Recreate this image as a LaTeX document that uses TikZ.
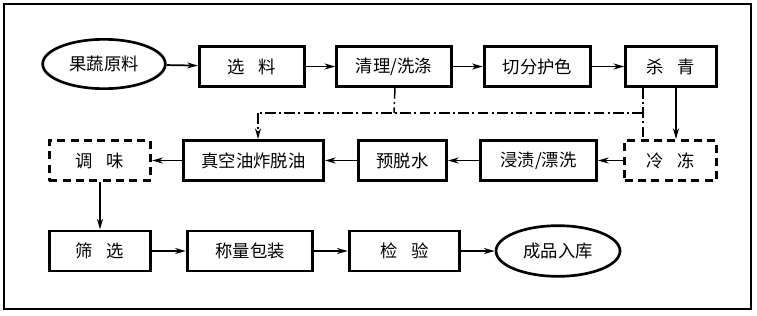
\documentclass[tikz,border=0pt]{standalone}
\usepackage{fontspec}
\newfontfamily\cjk{Noto Sans CJK SC}
\usetikzlibrary{arrows.meta,shapes.geometric,calc}
\newcommand{\gap}{\hspace{0.8em}}
\begin{document}
\begin{tikzpicture}[x=0.75pt,y=-0.75pt,
  lbl/.style={font=\cjk\fontsize{13}{15}\selectfont, inner sep=0pt},
  box/.style={lbl, draw, line width=2.2pt, minimum height=30pt},
  dbox/.style={box, dash pattern=on 6pt off 4pt},
  oval/.style={lbl, draw, ellipse, line width=2pt},
  arr/.style={line width=1.3pt, -{Stealth[length=8pt,width=4.5pt,inset=2.5pt]}},
  dd/.style={line width=1.1pt, dash pattern=on 8pt off 2.5pt on 1.5pt off 2.5pt}]
\useasboundingbox (0,0) rectangle (757,315);
\draw[line width=1.6pt] (4,4) rectangle (751,309);
% row 1
\node[oval, minimum width=92pt, minimum height=37pt] (gs) at (104,64) {果蔬原料};
\node[box, minimum width=79pt] (xl) at (252,66.5) {选\gap 料};
\node[box, minimum width=86pt] (ql) at (394,66.5) {清理/洗涤};
\node[box, minimum width=80pt] (qf) at (537.5,66.5) {切分护色};
\node[box, minimum width=68pt] (sq) at (671,66.5) {杀\gap 青};
% row 2
\node[dbox, minimum width=76pt] (tw) at (100,160.5) {调\gap 味};
\node[box, minimum width=105pt] (zk) at (253.5,160.5) {真空油炸脱油};
\node[box, minimum width=66pt] (yt) at (402.5,160.5) {预脱水};
\node[box, minimum width=87pt] (jz) at (538.5,160.5) {浸渍/漂洗};
\node[dbox, minimum width=69pt] (ld) at (670.5,160.5) {冷\gap 冻};
% row 3
\node[box, minimum width=76pt] (sx) at (100,251) {筛\gap 选};
\node[box, minimum width=94pt] (cl) at (250,251) {称量包装};
\node[box, minimum width=83pt] (jy) at (404.5,251) {检\gap 验};
\node[oval, minimum width=93pt, minimum height=38pt] (cp) at (558,251) {成品入库};
% arrows row 1
\draw[arr] (gs) -- (xl);
\draw[arr] (xl) -- (ql);
\draw[arr] (ql) -- (qf);
\draw[arr] (qf) -- (sq);
\draw[arr] ($(sq.south)+(5,0)$) -- ($(ld.north)+(5.5,0)$);
% arrows row 2
\draw[arr] (ld) -- (jz);
\draw[arr] (jz) -- (yt);
\draw[arr] (yt) -- (zk);
\draw[arr] (zk) -- (tw);
\draw[arr] (tw) -- (sx);
% arrows row 3
\draw[arr] (sx) -- (cl);
\draw[arr] (cl) -- (jy);
\draw[arr] (jy) -- (cp);
% dash-dot lines
\coordinate (h1) at (643,113);
\coordinate (h2) at (258,113);
\draw[dd] ($(sq.south)+(-28,0)$) -- ($(ld.north)+(-27.5,0)$);
\draw[dd] ($(ql.south)+(1,0)$) -- (ql.south |- h1);
\draw[dd] ($(qf.south)+(3.5,0)$) -- ($(qf.south)+(3.5,0)$ |- h1);
\draw[dd] (h1) -- (h2);
\draw[dd, -{Stealth[length=8pt,width=4.5pt,inset=2.5pt]}] (h2) -- ($(zk.north)+(4.5,0)$);
\end{tikzpicture}
\end{document}
